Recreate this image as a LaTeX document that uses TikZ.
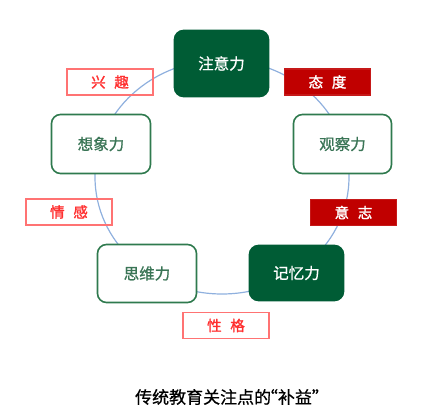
\documentclass[tikz,border=0pt]{standalone}
\usepackage{fontspec}
\newfontfamily\cjk[FakeBold=0.8]{Noto Sans CJK SC}
\newfontfamily\cjkb[FakeBold=1.6]{Noto Sans CJK SC}
\definecolor{dgreen}{HTML}{005C35}
\definecolor{lgreen}{HTML}{2F7A4E}
\definecolor{tgreen}{HTML}{3A7556}
\definecolor{dred}{HTML}{C00000}
\definecolor{lred}{HTML}{FF7373}
\definecolor{tred}{HTML}{FF3030}
\definecolor{arcblue}{HTML}{8FB0DE}
\tikzset{
  mainbox/.style={rectangle, rounded corners=9pt, line width=1.6pt, inner sep=0pt,
    font=\cjk\fontsize{15.5}{18}\selectfont},
  darkbox/.style={mainbox, draw=dgreen, fill=dgreen, text=white},
  lightbox/.style={mainbox, draw=lgreen, fill=white, text=tgreen},
  tagbox/.style={rectangle, inner sep=0pt, line width=1.1pt, minimum width=86pt, minimum height=26pt,
    font=\cjkb\fontsize{14.5}{17}\selectfont},
  redtag/.style={tagbox, draw=dred!90!white, fill=dred, text=white},
  pinktag/.style={tagbox, draw=lred, text=tred},
  cycle/.style={draw=arcblue, line width=1.2pt}
}
\begin{document}
\begin{tikzpicture}[x=1pt,y=-1pt]
\useasboundingbox (0,0) rectangle (424,415);
\coordinate (c) at (222,177);
\draw[cycle] (c) ellipse [x radius=127pt, y radius=117pt];
\node[darkbox, minimum width=94pt, minimum height=66pt] (att) at (221.5,63.5) {注意力};
\node[lightbox, minimum width=99pt, minimum height=59pt] (ima) at (101,144) {想象力};
\node[lightbox, minimum width=98pt, minimum height=59pt] (obs) at (342.5,144) {观察力};
\node[lightbox, minimum width=99pt, minimum height=58pt] (thi) at (147,273.5) {思维力};
\node[darkbox, minimum width=94pt, minimum height=55pt] (mem) at (296.5,273) {记忆力};
\node[pinktag] (int) at (110,82) {兴\hspace{0.6em}趣};
\node[redtag] (att2) at (327.5,82) {态\hspace{0.6em}度};
\node[pinktag] (emo) at (69,212) {情\hspace{0.6em}感};
\node[redtag] (will) at (353.5,212.5) {意\hspace{0.6em}志};
\node[pinktag] (cha) at (226,325.5) {性\hspace{0.6em}格};
\node[font=\cjk\fontsize{17}{20}\selectfont, text=black] (cap) at (232,397) {传统教育关注点的\hspace{-0.6em}“补益”};
\end{tikzpicture}
\end{document}
